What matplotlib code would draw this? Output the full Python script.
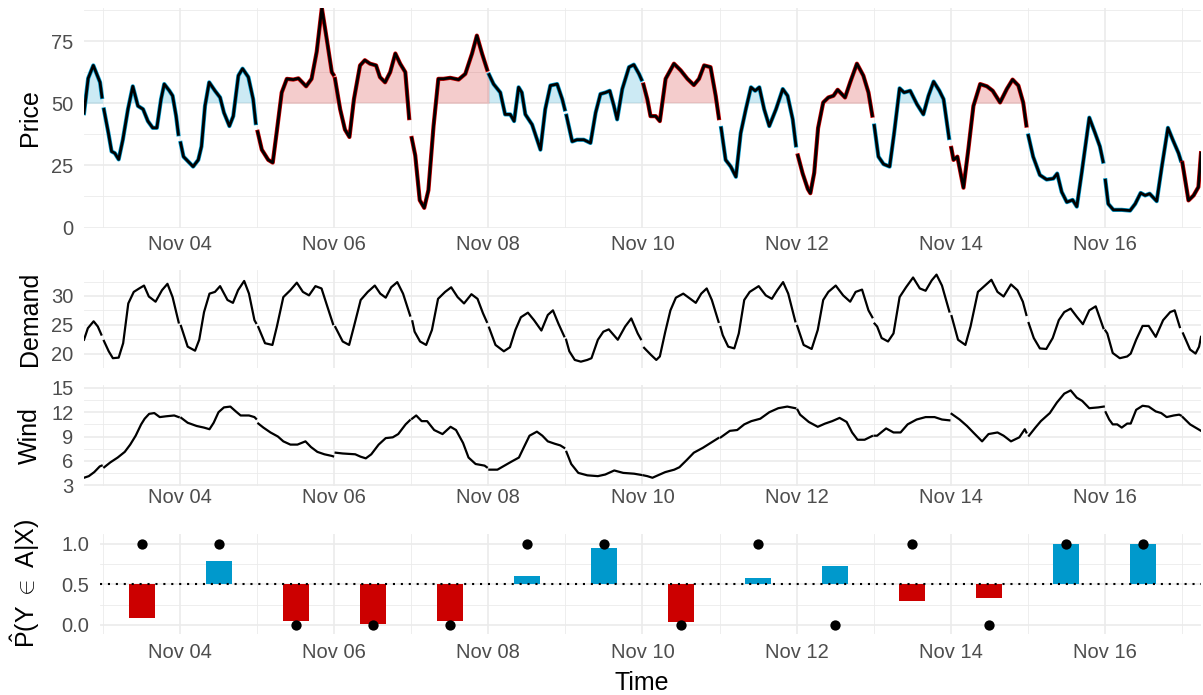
import numpy as np
import matplotlib
matplotlib.use("Agg")
import matplotlib.pyplot as plt
import matplotlib.dates as mdates
from matplotlib.transforms import blended_transform_factory

plt.rcParams["font.family"] = ["Liberation Sans", "DejaVu Sans"]
plt.rcParams["mathtext.fontset"] = "custom"
plt.rcParams["mathtext.rm"] = "Liberation Sans"
plt.rcParams["mathtext.it"] = "Liberation Sans:italic"
plt.rcParams["mathtext.sf"] = "Liberation Sans"

# ---------------- data (hours relative to Nov 03 00:00) ----------------
price_hours = [-6, -4.7, -3.1, -1, -0.4, 0.2, 1.6, 2.6, 3.6, 4.8, 6.1, 7.7, 9.2, 10.8, 12.4, 13.9, 15.4, 16.7,
               18, 19, 20.6, 21.6, 22.7, 23.4, 24.1, 25, 26.5, 28, 29.6, 30.6, 31.7, 33, 34.8, 36.4, 37.6, 39.3,
               40.5, 42.1, 43.4, 45.2, 46.7, 47.5, 48.1, 49.4, 51.4, 52.8, 54, 55.6, 57.2, 59.2, 60.8, 63.2,
               64.9, 66.5, 68.1, 69.6, 71.2, 71.7, 72.2, 73.8, 75.3, 76.7, 78.1, 80, 81.5, 83.1, 85, 86.2, 87.8,
               89.4, 91, 92.5, 94.1, 95.3, 96.1, 97.2, 98.6, 100, 101.3, 102.9, 104.4, 106, 108.1, 110.7, 112.8,
               114.9, 116.4, 118, 119.6, 120.2, 121.6, 123.7, 125.2, 126.8, 128, 129.4, 130.4, 131.5, 133.6,
               136.2, 137.7, 139.3, 141.4, 143, 143.8, 144.3, 146.1, 147.6, 149.7, 151.8, 153.4, 154.9, 156.5,
               157.8, 159.1, 160.1, 161.7, 163.8, 165.3, 166.9, 167.7, 168.3, 169.5, 170.5, 172.1, 173.4, 175.2,
               177.8, 179.9, 182, 184, 185.6, 187.2, 189.2, 190.8, 191.8, 192.5, 193.9, 195.5, 197.1, 198.6,
               200.2, 201.8, 203.1, 204.4, 205.9, 207.5, 209.6, 211.7, 213.2, 214.8, 215.8, 216.4, 217.9, 219.5,
               220.3, 221.5, 222.7, 224.3, 225.9, 227.5, 228.8, 231.1, 232.7, 234.8, 236.8, 238.4, 239.6, 240.2,
               241.5, 243.1, 245, 246.4, 248.1, 249.5, 251.4, 253.5, 255.5, 257.1, 258.7, 260.5, 261.8, 263.5,
               264.2, 264.9, 266.1, 268, 269.5, 271.1, 273.2, 275.3, 277.1, 279.4, 281.5, 283.3, 285.1, 286.6,
               287.6, 288.2, 289.7, 291.8, 293.9, 296, 297.2, 298.6, 300.2, 302, 303.3, 304.8, 307.2, 309, 310.5,
               311.5, 312.2, 313.1, 314.7, 317.3, 319.9, 321.5, 323.2, 324.6, 326, 328.2, 329.8, 331.7, 333.2,
               335, 335.7, 336.2, 338.1, 339.7, 341.2, 342]
price_values = [46, 60, 65.2, 58.4, 52.5, 47.5, 38, 30.6, 29.9, 27.4, 35.3, 47.6, 56.8, 48.9, 47.6, 42.8, 40.1, 40.1,
                51.6, 57.7, 55, 53, 44.8, 37.5, 34, 28.5, 26.5, 24.5, 27.2, 32.6, 48.9, 58.4, 55, 52.3, 46.2, 40.8,
                44.8, 61.1, 63.9, 60.5, 51.6, 42, 38.5, 31.3, 27.2, 26.1, 38, 54.3, 59.8, 59.5, 60, 56.8,
                59.8, 70.7, 88.3, 76, 62.5, 61.5, 59.8, 47.6, 39.4, 36.4, 51.6, 65.2, 67.3, 65.9, 65.2, 60.5, 58.4,
                62.5, 70, 65.9, 62.5, 44, 36, 29, 11, 7.9, 15, 40.8, 59.8, 59.8, 60.2, 59.5, 61.8,
                70, 77.2, 70, 63.5, 61.5, 57.7, 54.3, 45.5, 45.5, 42.8, 56.4, 54.3, 45.5, 41.4,
                31.3, 47.6, 57.1, 57.7, 51.6, 47.5, 45, 34.6, 35.3, 35.3, 34, 46.2, 53.7, 54.3,
                55, 48.9, 43.5, 55.7, 64.5, 65.5, 61.8, 59.5, 57.5, 51.6, 44.8, 44.8, 42.8, 59.8,
                65.9, 63.2, 59.8, 57.3, 59.8, 65.2, 64.5, 53, 44, 40, 27.2, 24.5, 20.4, 38,
                47.6, 56.4, 55, 56.4, 47.6, 40.8, 47.6, 55.7, 53, 43.5, 33, 29, 21.7, 15.5,
                13.8, 22, 40, 50.3, 52.3, 53, 55.4, 52.3, 58.4, 65.9, 61.1, 54.3, 45, 41,
                28.5, 25.5, 24.5, 38, 56, 54.3, 55, 49.6, 45.5, 53, 58.7, 55, 51.6, 36,
                32, 27.2, 28.5, 16, 31.3, 48.9, 57.7, 56.8, 55, 50.3, 55.7, 59.5, 57.1, 50.3,
                41, 37, 28.5, 21.1, 19.3, 19.7, 21.7, 14.3, 10.2, 11.1, 8.4, 21.7, 44.2, 38, 32.6,
                26.5, 19, 9.5, 7.1, 7.1, 6.8, 9.5, 13.9, 12.9, 13.6, 10.6, 24.5, 40.1, 35.3,
                29.9, 27, 26, 10.9, 12.9, 16.3, 29.9]

demand_hours = [-6, -4.8, -3, -1.7, -0.6, 0.2, 1.7, 3, 4.8, 6.2, 7.8, 9.5, 11.2, 12.7, 14.2, 16.3, 18.3, 20, 21.6,
                23.5, 24.2, 26.3, 28.6, 29.9, 31.4, 33.1, 34.8, 36.4, 38.7, 40.4, 42, 43.9, 45.4, 47.1, 47.6,
                48.3, 50.4, 52.7, 54.1, 56.1, 58.3, 60.3, 62.2, 64.1, 66.1, 68, 69.5, 71.6, 72.3, 74.6, 76.6,
                78.1, 80.2, 82.4, 84.6, 86.3, 88, 89.7, 91.6, 93.4, 95.6, 96.3, 97, 98.7, 100.6, 102.4, 104.3,
                106.5, 108.4, 110.4, 112.4, 114.7, 116.6, 118.3, 119.5, 120.2, 122.2, 124.8, 126.7, 128.4, 130.1,
                132.3, 134.2, 136.5, 138.5, 140.1, 141.8, 143.6, 144.2, 145.2, 146.9, 148.8, 150.8, 152.1, 154.1,
                155.8, 157.5, 160.3, 162.6, 164.5, 166.5, 167.5, 168.5, 170.6, 172.3, 173.4, 175.1, 176.7, 178.4,
                180.7, 182.9, 184.6, 186.3, 188, 189.6, 191.7, 192.3, 193, 194.7, 196.6, 198, 199.7, 201.4, 204.2,
                206.4, 208.3, 210, 211.8, 213.4, 215.6, 216.2, 218.2, 220.7, 222.6, 224.3, 225.9, 228.2, 230.5,
                232.7, 234.4, 236.4, 238.4, 239.6, 240.3, 241.1, 242.5, 244.5, 246.2, 248.1, 250.1, 252.3, 254.4,
                256.2, 258.1, 259.6, 261.3, 263.6, 264.3, 266.3, 268.6, 270.2, 272.5, 274.7, 276.7, 278.6, 280.5,
                282.8, 284.8, 286.5, 287.6, 288.3, 289.9, 291.8, 293.8, 295.8, 297.7, 299.4, 301.4, 303.3, 305.2,
                307.2, 309.2, 311.6, 312.2, 312.8, 314.5, 316.7, 319, 320.1, 321.8, 323.8, 325.7, 327.9, 330.2,
                332.4, 333.8, 335.4, 336.4, 338.6, 340.3, 341.4, 342]
demand_values = [22.4, 24.4, 25.6, 24.7, 23.3, 22.2, 20.4, 19.2, 19.3, 21.8, 28.7, 30.7, 31.3, 31.8, 29.9, 29.0, 31.0, 32.1, 29.8,
                 25.4, 24.8, 21.2, 20.5, 22.4, 27.2, 30.4, 30.7, 31.7, 29.3, 28.8, 31.0, 32.6, 30.4, 25.8, 25.3,
                 24.6, 21.8, 21.5, 24.7, 29.8, 31.0, 32.3, 30.7, 30.1, 31.7, 31.3, 28.7, 25.1, 24.6, 22.1, 21.5,
                 24.7, 29.3, 30.7, 31.8, 30.4, 29.7, 31.5, 32.4, 30.4, 26.6, 25.6, 23.8, 22.1, 21.5, 24.1, 29.5,
                 30.7, 31.5, 29.8, 28.7, 30.3, 29.5, 27.0, 25.5, 24.5, 21.5, 20.4, 21.1, 24.1, 26.3,
                 27.1, 25.8, 24.0, 26.7, 27.5, 25.2, 23.0, 22.4, 20.4, 18.9, 18.6, 18.9, 19.2, 22.4,
                 23.8, 24.2, 22.4, 24.7, 26.1, 23.5, 22.5, 21.0, 19.8, 18.9, 19.5, 23.8, 27.5, 29.7,
                 30.4, 29.5, 28.8, 30.4, 31.3, 29.3, 25.5, 24.6, 23.2, 21.2, 20.9, 23.5, 29.3, 30.7, 31.7,
                 30.1, 29.5, 31.0, 32.4, 30.4, 25.6, 24.8, 21.5, 20.8, 24.1, 29.3, 30.7, 31.8, 30.1,
                 29.0, 30.7, 31.1, 27.5, 26.3, 25.2, 24.7, 22.7, 22.1, 23.5, 29.8, 31.5, 33.2, 31.3,
                 30.9, 32.7, 33.7, 31.8, 27.3, 26.5, 22.4, 21.5, 24.7, 30.7, 31.8, 32.8, 30.7, 29.9,
                 32.0, 31.0, 29.0, 26.7, 25.3, 22.7, 20.9, 20.8, 22.7, 25.8, 27.2, 27.8, 26.4, 25.1,
                 27.5, 28.2, 24.4, 24.0, 23.5, 20.1, 19.2, 19.5, 20.0, 22.4, 24.8, 24.8, 22.9, 25.8,
                 27.2, 27.5, 24.6, 23.5, 20.7, 20.0, 21.2, 22.9]

wind_hours = [-6, -4.5, -2.8, -1.1, -0.5, 0.3, 2.2, 4.5, 6.7, 8.4, 10.1, 11.8, 12.9, 14.3, 15.9, 17.6, 19.6, 22.1,
              23.5, 24.3, 26.3, 29.1, 31.4, 33.1, 34.4, 35.9, 37.6, 39.6, 41.3, 42.8, 45.4, 47.1, 47.6, 48.3,
              49.9, 52.1, 54.4, 56.1, 58.3, 60.5, 63, 64.7, 66.7, 68.9, 71.2, 71.6, 72.4, 74.6, 78.5, 80.2, 81.8,
              83.5, 85.8, 88, 90.2, 91.9, 94.2, 95.5, 96.2, 97.5, 99.2, 100.9, 103.1, 105.7, 108.2, 109.9, 112.1,
              113.8, 116, 118.8, 119.5, 120.3, 122.8, 125, 127.2, 129.5, 131.2, 132.8, 135.1, 136.8, 138.5, 140.7,
              142.4, 143.6, 144.3, 145.8, 148, 150.8, 154.1, 156.4, 159.2, 162, 165.4, 167.6, 168.3, 169.5, 171.1,
              172.8, 175.1, 177.9, 179.5, 181.8, 184, 186.8, 189.6, 191.6, 192.4, 195.2, 197.5, 199.7, 201.9,
              204.7, 207.5, 210.3, 213.1, 215.6, 216.3, 217.1, 219.8, 222.6, 224.9, 227.1, 229.4, 231.6, 233.3,
              235, 237.2, 239.5, 240.3, 241.1, 243.9, 246.2, 248.4, 250.6, 253.4, 256.2, 259, 261.3, 263.6, 264.3,
              266.8, 269.1, 271.3, 273.8, 275.8, 278.6, 280.5, 282.8, 285.4, 287.1, 287.6, 288.4, 290.4, 292.1,
              294.9, 297.1, 299.4, 301.4, 303.3, 305, 307.2, 310, 311.7, 312.3, 313.4, 314.5, 315.9, 317.3, 319,
              320.1, 321.8, 323.8, 325.7, 327.9, 329.6, 331.3, 333.5, 335.2, 335.7, 336.3, 338.6, 340.3, 342]
wind_values = [3.9, 4.1, 4.6, 5.3, 5.4, 5.2, 5.8, 6.4, 7.1, 8.0, 9.1, 10.5, 11.2, 11.8, 11.9, 11.4, 11.5, 11.6,
               11.4, 11.3, 10.7, 10.3, 10.1, 9.9, 10.7, 12.0, 12.6, 12.7, 12.1, 11.6, 11.6, 11.4, 11.2, 10.6,
               10.1, 9.5, 9.0, 8.4, 8.0, 8.0, 8.4, 7.7, 7.1, 6.8, 6.6, 6.55, 7.0, 6.9, 6.8, 6.5, 6.3,
               6.8, 8.0, 8.8, 8.9, 9.3, 10.5, 11.0, 11.2, 11.6, 10.9, 10.9, 9.8, 9.3, 10.2, 9.8, 8.2,
               6.4, 5.6, 5.4, 5.2, 4.9, 4.9, 5.4, 5.9, 6.4, 7.8, 9.1, 9.6, 9.1, 8.4, 8.1,
               7.9, 7.6, 7.1, 5.6, 4.5, 4.2, 4.1, 4.3, 4.8, 4.5, 4.4, 4.25, 4.2, 4.1, 3.9,
               4.2, 4.6, 4.9, 5.2, 6.1, 7.0, 7.6, 8.3, 8.8, 8.9, 9.7, 9.8, 10.5, 10.9,
               11.2, 12.0, 12.5, 12.7, 12.5, 12.3, 11.7, 10.8, 10.2, 10.6, 10.9, 11.3, 10.8, 9.5,
               8.6, 8.6, 9.05, 9.1, 9.1, 10.0, 9.5, 9.5, 10.5, 11.1, 11.4, 11.4, 11.1, 11.0, 11.8,
               11.1, 10.3, 9.4, 8.4, 9.3, 9.5, 9.1, 8.4, 8.9, 9.9, 9.5, 9.1, 10.1, 10.9,
               11.9, 13.2, 14.3, 14.7, 13.8, 13.4, 12.5, 12.6, 12.7, 12.0, 11.1, 10.5, 10.5, 10.1, 10.6,
               10.6, 12.3, 12.8, 12.7, 12.1, 11.9, 11.4, 11.6, 11.7, 11.6, 11.4, 10.5, 10.1, 9.7]

# daily outcome (1 = in A / blue, 0 = red) for Nov 02 ... Nov 17
day_outcome = [1, 1, 1, 0, 0, 0, 1, 1, 0, 1, 0, 1, 0, 1, 1, 0]

# probability panel: Nov 03 ... Nov 16 (bar at noon)
prob_days = ["11-03", "11-04", "11-05", "11-06", "11-07", "11-08", "11-09",
             "11-10", "11-11", "11-12", "11-13", "11-14", "11-15", "11-16"]
prob_values = [0.09, 0.79, 0.05, 0.01, 0.05, 0.60, 0.95, 0.04, 0.58, 0.73, 0.29, 0.33, 0.99, 1.00]
prob_outcome = [1, 1, 0, 0, 0, 1, 1, 0, 1, 0, 1, 0, 1, 1]

# ---------------- styling ----------------
RED = "#CC0000"
BLUE = "#0099CC"
GRID = "#EBEBEB"
TICKC = "#4D4D4D"
TICK_FS = 14.5
TITLE_FS = 18

W, H = 1203, 695
fig = plt.figure(figsize=(W / 100, H / 100), dpi=100)

BASE = mdates.date2num(np.datetime64("2020-11-03T00:00"))


def hx(hours):
    return BASE + np.asarray(hours, dtype=float) / 24.0


def add_ax(left, top, right, bottom):
    return fig.add_axes([left / W, 1 - bottom / H, (right - left) / W, (bottom - top) / H])


def style(ax, yticks, yminor, ylim, xlim, xpad, show_x=True, yfmt=None):
    ax.set_xlim(*xlim)
    ax.set_ylim(*ylim)
    for s in ax.spines.values():
        s.set_visible(False)
    ax.xaxis.set_major_locator(mdates.DayLocator(bymonthday=[4, 6, 8, 10, 12, 14, 16]))
    ax.xaxis.set_minor_locator(mdates.DayLocator(bymonthday=[3, 5, 7, 9, 11, 13, 15, 17]))
    ax.xaxis.set_major_formatter(mdates.DateFormatter("%b %d"))
    ax.set_yticks(yticks)
    ax.set_yticks(yminor, minor=True)
    if yfmt:
        ax.set_yticklabels([yfmt % v for v in yticks])
    ax.grid(True, which="major", color=GRID, lw=1.2)
    ax.grid(True, which="minor", color=GRID, lw=0.6)
    ax.set_axisbelow(True)
    ax.tick_params(which="both", length=0)
    ax.tick_params(axis="y", labelsize=TICK_FS, labelcolor=TICKC, pad=7.5)
    ax.tick_params(axis="x", labelsize=TICK_FS, labelcolor=TICKC, pad=xpad, labelbottom=show_x)


def set_ylab(ax, text):
    ax.set_ylabel(text, fontsize=TITLE_FS, color="black")
    ax.yaxis.set_label_coords(42 / W, 0.5, transform=blended_transform_factory(fig.transFigure, ax.transAxes))


def day_groups(hours):
    h = np.asarray(hours, dtype=float)
    d = np.floor(h / 24).astype(int)
    groups = []
    for day in np.unique(d):
        groups.append((day, np.where(d == day)[0]))
    return groups


XLIM = (hx(-6), hx(342))

# ---------------- Price ----------------
axp = add_ax(84, 8, 1201, 227.5)
ph = np.asarray(price_hours, dtype=float)
pv = np.asarray(price_values, dtype=float)
groups = day_groups(ph)
for k, (day, idx) in enumerate(groups):
    col = BLUE if day_outcome[day + 1] == 1 else RED
    xf = hx(ph[idx])
    yf = pv[idx]
    if k + 1 < len(groups):
        nxt = groups[k + 1][1][0]
        xf = np.append(xf, hx(ph[nxt]))
        yf = np.append(yf, pv[nxt])
    axp.fill_between(xf, 50, yf, where=yf >= 50, interpolate=True, color=col, alpha=0.2, lw=0)
for day, idx in groups:
    col = BLUE if day_outcome[day + 1] == 1 else RED
    axp.plot(hx(ph[idx]), pv[idx], color=col, lw=3.0, solid_joinstyle="round")
    axp.plot(hx(ph[idx]), pv[idx], color="black", lw=2.0, solid_joinstyle="round")
style(axp, [0, 25, 50, 75], [12.5, 37.5, 62.5, 87.5], (0, 88.3), XLIM, 5.6)
set_ylab(axp, "Price")

# ---------------- Demand ----------------
axd = add_ax(84, 270, 1201, 368)
dh = np.asarray(demand_hours, dtype=float)
dv = np.asarray(demand_values, dtype=float)
for day, idx in day_groups(dh):
    axd.plot(hx(dh[idx]), dv[idx], color="black", lw=1.6, solid_joinstyle="round")
style(axd, [20, 25, 30], [17.5, 22.5, 27.5, 32.5], (17.5, 34.5), XLIM, 2, show_x=False)
set_ylab(axd, "Demand")

# ---------------- Wind ----------------
axw = add_ax(84, 384.5, 1201, 486)
wh = np.asarray(wind_hours, dtype=float)
wv = np.asarray(wind_values, dtype=float)
for day, idx in day_groups(wh):
    axw.plot(hx(wh[idx]), wv[idx], color="black", lw=1.6, solid_joinstyle="round")
style(axw, [3, 6, 9, 12, 15], [4.5, 7.5, 10.5, 13.5], (2.88, 15.43), XLIM, 1.7)
set_ylab(axw, "Wind")

# ---------------- Probability ----------------
axb = add_ax(100, 534, 1201, 633.5)
bx = np.array([mdates.date2num(np.datetime64("2020-" + d + "T12:00")) for d in prob_days])
bv = np.asarray(prob_values, dtype=float)
bcol = [BLUE if v > 0.5 else RED for v in bv]
axb.bar(bx, bv - 0.5, bottom=0.5, width=8 / 24, color=bcol, lw=0, zorder=2)
axb.axhline(0.5, color="black", lw=1.5, linestyle=(0, (1, 2.8)), zorder=3)
axb.scatter(bx, prob_outcome, s=55, color="black", zorder=4, lw=0)
style(axb, [0.0, 0.5, 1.0], [0.25, 0.75], (-0.105, 1.119), (hx(-1), hx(342)), 7, yfmt="%.1f")
set_ylab(axb, r"$\hat{\mathrm{P}}(\mathrm{Y}\ \in\ \mathrm{A}|\mathrm{X})$")

fig.text(642 / W, 1 - 683 / H, "Time", ha="center", va="center", fontsize=TITLE_FS, color="black")

fig.savefig("out.png", dpi=100)
